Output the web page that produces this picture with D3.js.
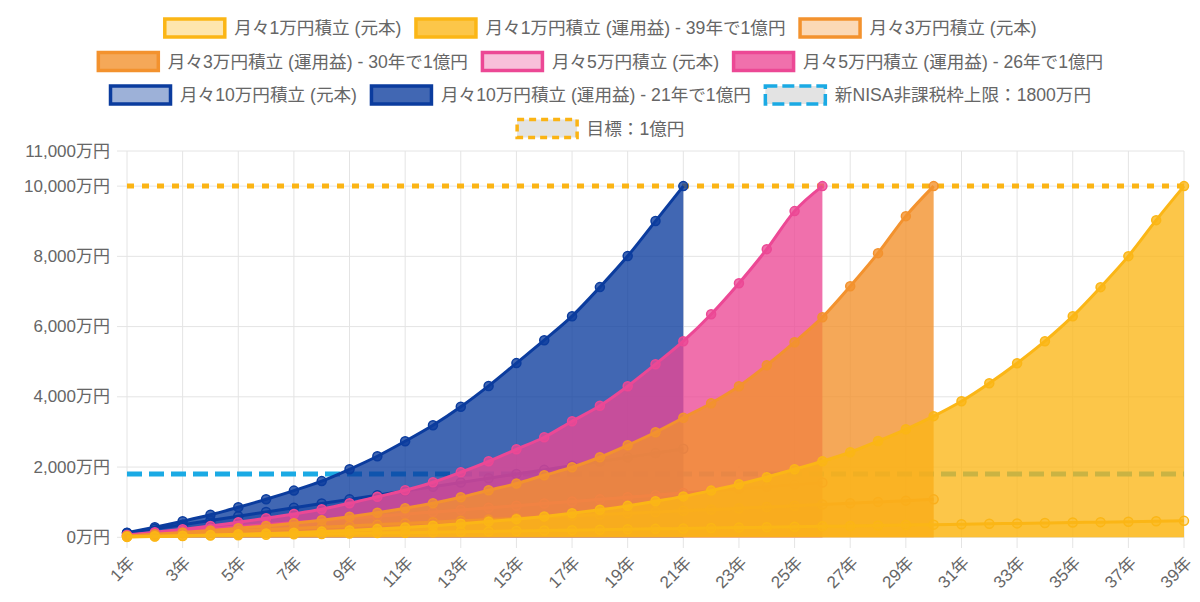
<!DOCTYPE html>
<html lang="ja">
<head>
<meta charset="UTF-8">
<title>積立シミュレーション</title>
<script src="https://d3js.org/d3.v7.min.js"></script>
<style>
  body { margin: 0; background: #fff; }
  svg { display: block; font-family: "Liberation Sans", "Noto Sans CJK JP", sans-serif; }
</style>
</head>
<body>
<svg width="1200" height="602"></svg>
<script>
// data (万円)
const years = ["1年","2年","3年","4年","5年","6年","7年","8年","9年","10年",
  "11年","12年","13年","14年","15年","16年","17年","18年","19年","20年",
  "21年","22年","23年","24年","25年","26年","27年","28年","29年","30年",
  "31年","32年","33年","34年","35年","36年","37年","38年","39年"];

const principal1 = [12,24,36,48,60,72,84,96,108,120,132,144,156,168,180,192,204,216,228,240,
  252,264,276,288,300,312,324,336,348,360,372,384,396,408,420,432,444,456,468];
const growth1 = [13,29,46,64,86,108,133,162,195,233,280,330,385,447,517,595,685,785,895,1025,
  1165,1330,1510,1712,1937,2165,2422,2740,3075,3450,3875,4387,4957,5584,6296,7123,8006,9031,10000];

const principal3 = [36,72,108,144,180,216,252,288,324,360,396,432,468,504,540,576,612,648,684,720,
  756,792,828,864,900,936,972,1008,1044,1080];
const growth3 = [39,86,137,192,257,325,400,485,585,700,826,969,1140,1339,1530,1766,1994,2279,2621,2991,
  3405,3818,4302,4900,5556,6268,7150,8091,9145,10000];

const principal5 = [60,120,180,240,300,360,420,480,540,600,660,720,780,840,900,960,1020,1080,1140,1200,
  1260,1320,1380,1440,1500,1560];
const growth5 = [65,142,228,320,428,541,665,800,968,1154,1339,1567,1852,2165,2507,2849,3305,3745,4302,4929,
  5584,6353,7236,8205,9288,10000];

const principal10 = [120,240,360,480,600,720,840,960,1080,1200,1320,1440,1560,1680,1800,1920,2040,2160,2280,2400,2520];
const growth10 = [130,285,456,640,855,1083,1330,1600,1937,2308,2735,3190,3715,4310,4960,5613,6296,7124,8008,9005,10000];

const nisaLimit = 1800;
const goal = 10000;
const yTicks = [0, 2000, 4000, 6000, 8000, 10000, 11000];

const series = [
  { label: "月々1万円積立 (元本)", values: principal1, stroke: "#FBB616", fill: "rgba(251,182,22,0.35)" },
  { label: "月々1万円積立 (運用益) - 39年で1億円", values: growth1, stroke: "#FBB616", fill: "rgba(251,182,22,0.78)" },
  { label: "月々3万円積立 (元本)", values: principal3, stroke: "#F3922E", fill: "rgba(243,146,46,0.35)" },
  { label: "月々3万円積立 (運用益) - 30年で1億円", values: growth3, stroke: "#F3922E", fill: "rgba(243,146,46,0.8)" },
  { label: "月々5万円積立 (元本)", values: principal5, stroke: "#EC4895", fill: "rgba(236,72,149,0.35)" },
  { label: "月々5万円積立 (運用益) - 26年で1億円", values: growth5, stroke: "#EC4895", fill: "rgba(236,72,149,0.78)" },
  { label: "月々10万円積立 (元本)", values: principal10, stroke: "#0B3C9E", fill: "rgba(11,60,158,0.4)" },
  { label: "月々10万円積立 (運用益) - 21年で1億円", values: growth10, stroke: "#0B3C9E", fill: "rgba(11,60,158,0.78)" },
  { label: "新NISA非課税枠上限：1800万円", values: years.map(() => nisaLimit), stroke: "#1BAAE4", fill: "rgba(200,200,200,0.5)", dash: "15,7", boxDash: "12,5", ref: true },
  { label: "目標：1億円", values: years.map(() => goal), stroke: "#FBB414", fill: "rgba(200,200,200,0.5)", dash: "7,8", boxDash: "7,5", ref: true }
];

const svg = d3.select("svg");
const fontSize = 17;
const legendFont = 17.6;
const textColor = "#666";

const x = d3.scalePoint().domain(years).range([127, 1184]);
const y = d3.scaleLinear().domain([0, 11000]).range([537.3, 151]);

// grid
const grid = svg.append("g");
grid.selectAll("line.h").data(yTicks).join("line")
  .attr("x1", 117).attr("x2", 1184)
  .attr("y1", d => y(d)).attr("y2", d => y(d))
  .attr("stroke", "#e4e4e4").attr("stroke-width", 1);
const shownYears = years.filter((d, i) => i % 2 === 0);
grid.selectAll("line.v").data(shownYears).join("line")
  .attr("x1", d => x(d)).attr("x2", d => x(d))
  .attr("y1", 151).attr("y2", 548)
  .attr("stroke", "#e4e4e4").attr("stroke-width", 1);

// y labels
svg.append("g").selectAll("text").data(yTicks).join("text")
  .attr("x", 110).attr("y", d => y(d))
  .attr("text-anchor", "end").attr("dominant-baseline", "central")
  .attr("font-size", fontSize).attr("fill", textColor)
  .text(d => d3.format(",")(d) + "万円");

// x labels, rotated
svg.append("g").selectAll("text").data(shownYears).join("text")
  .attr("transform", d => `translate(${x(d) + 5},${560}) rotate(-45)`)
  .attr("text-anchor", "end").attr("dominant-baseline", "central")
  .attr("font-size", 17).attr("fill", textColor)
  .text(d => d);

// datasets: last one drawn first so the first ends on top
const plot = svg.append("g");
const line = d3.line().x((d, i) => x(years[i])).y(d => y(d)).curve(d3.curveMonotoneX);
const area = d3.area().x((d, i) => x(years[i])).y0(y(0)).y1(d => y(d)).curve(d3.curveMonotoneX);

series.slice().reverse().forEach(s => {
  const g = plot.append("g");
  if (!s.ref) {
    g.append("path").attr("d", area(s.values)).attr("fill", s.fill);
  }
  g.append("path").attr("d", line(s.values))
    .attr("fill", "none").attr("stroke", s.stroke)
    .attr("stroke-width", s.ref ? 5 : 3)
    .attr("stroke-dasharray", s.dash || null);
  if (!s.ref) {
    g.selectAll("circle").data(s.values).join("circle")
      .attr("cx", (d, i) => x(years[i])).attr("cy", d => y(d))
      .attr("r", 4.5)
      .attr("fill", s.fill).attr("stroke", s.stroke).attr("stroke-width", 1.5);
  }
});

// legend
const legend = svg.append("g");
const boxW = 63, boxH = 21, boxGap = 8, itemGap = 13, maxRow = 1100, rowH = 33.5;
const measure = svg.append("text").attr("font-size", legendFont);
const items = series.map(s => {
  measure.text(s.label);
  return { s, w: boxW + boxGap + measure.node().getComputedTextLength() };
});
measure.remove();

const rows = [[]];
let rowW = 0;
items.forEach(it => {
  const add = rows[rows.length - 1].length ? itemGap + it.w : it.w;
  if (rowW + add > maxRow) { rows.push([it]); rowW = it.w; }
  else { rows[rows.length - 1].push(it); rowW += add; }
});

rows.forEach((row, r) => {
  const total = d3.sum(row, d => d.w) + itemGap * (row.length - 1);
  let cx = (1200 - total) / 2;
  const cy = 28 + r * rowH;
  row.forEach(it => {
    legend.append("rect")
      .attr("x", cx + 1.5).attr("y", cy - boxH / 2 + 1.5)
      .attr("width", boxW - 3).attr("height", boxH - 3)
      .attr("fill", it.s.fill).attr("stroke", it.s.stroke)
      .attr("stroke-width", 3.5)
      .attr("stroke-dasharray", it.s.boxDash || null);
    legend.append("text")
      .attr("x", cx + boxW + boxGap).attr("y", cy)
      .attr("dominant-baseline", "central")
      .attr("font-size", legendFont).attr("fill", textColor)
      .text(it.s.label);
    cx += it.w + itemGap;
  });
});
</script>
</body>
</html>
